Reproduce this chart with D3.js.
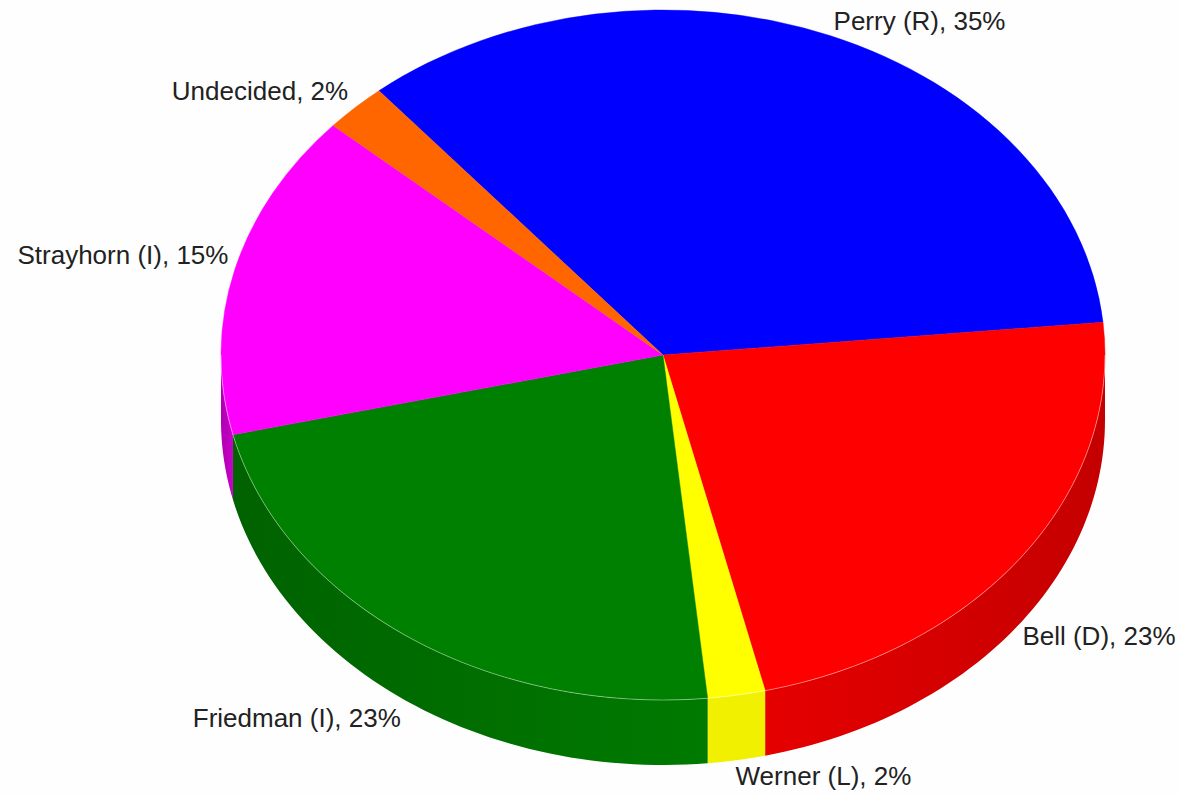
<!DOCTYPE html>
<html>
<head>
<meta charset="utf-8">
<title>Pie chart</title>
<script src="https://cdn.jsdelivr.net/npm/d3@7"></script>
<style>
  html, body { margin: 0; padding: 0; background: #fefefe; }
  svg { display: block; }
</style>
</head>
<body>
<div id="pie-chart"></div>
<script>
const candidates = ["Perry (R)", "Bell (D)", "Werner (L)", "Friedman (I)", "Strayhorn (I)", "Undecided"];
// printed percentages
const labelPercents = [35, 23, 2, 23, 15, 2];
// slice shares (printed ones are rounded)
const shares = [34.6, 22.8, 2.1, 22.9, 15.3, 2.3];
const topColors = ["#0000ff", "#ff0000", "#ffff00", "#008000", "#ff00ff", "#ff6600"];
const wallDark = ["#0000c0", "#c40000", "#f0f000", "#006200", "#b000b0", "#c05000"];
const wallLight = ["#0000c0", "#e60000", "#f0f000", "#007a00", "#c800c8", "#c05000"];

const width = 1179, height = 795;
const cx = 663, cy = 355, rx = 442, ry = 345, depth = 65;
const startAngle = -40 * Math.PI / 180;

// label nudges from the rim point [dx, dy]
const labelNudge = [[3, -6], [0, 24], [-1, 25], [-6, 26], [-6, -6], [-7, -7]];

const svg = d3.select("#pie-chart")
  .append("svg")
  .attr("width", width)
  .attr("height", height)
  .style("background-color", "#fefefe");

const pie = d3.pie()
  .sort(null)
  .startAngle(startAngle)
  .endAngle(startAngle + 2 * Math.PI);

const slices = pie(shares);

const arc = d3.arc().innerRadius(0).outerRadius(rx);

// angle measured clockwise from 12 o'clock, same as d3.arc
const rimX = a => cx + rx * Math.sin(a);
const rimY = a => cy - ry * Math.cos(a);

const defs = svg.append("defs");
const walls = svg.append("g");

// side walls, only the front half of the pie shows
slices.forEach((s, i) => {
  const a0 = Math.max(s.startAngle, Math.PI / 2);
  const a1 = Math.min(s.endAngle, 3 * Math.PI / 2);
  if (a1 <= a0) return;

  const steps = d3.range(0, 61).map(k => a0 + (a1 - a0) * k / 60);
  const upper = steps.map(a => [rimX(a), rimY(a)]);
  const lower = steps.slice().reverse().map(a => [rimX(a), rimY(a) + depth]);

  // the wall gets lighter towards the front of the pie
  const darkAtStart = Math.abs(a0 - Math.PI) > Math.abs(a1 - Math.PI);
  const grad = defs.append("linearGradient")
    .attr("id", "wall" + i)
    .attr("gradientUnits", "userSpaceOnUse")
    .attr("x1", rimX(a0)).attr("y1", 0)
    .attr("x2", rimX(a1)).attr("y2", 0);
  grad.append("stop").attr("offset", 0).attr("stop-color", darkAtStart ? wallDark[i] : wallLight[i]);
  grad.append("stop").attr("offset", 1).attr("stop-color", darkAtStart ? wallLight[i] : wallDark[i]);

  walls.append("path")
    .attr("d", d3.line()(upper.concat(lower)) + "Z")
    .attr("fill", `url(#wall${i})`);
});

// top of the pie
svg.append("g")
  .attr("transform", `translate(${cx},${cy}) scale(1,${ry / rx})`)
  .selectAll("path")
  .data(slices)
  .join("path")
  .attr("d", arc)
  .attr("fill", (d, i) => topColors[i])
  .attr("stroke", (d, i) => topColors[i])
  .attr("stroke-width", 0.5);

// thin light rim between top and wall
const rimAngles = d3.range(0, 121).map(k => Math.PI / 2 + Math.PI * k / 120);
svg.append("path")
  .attr("d", d3.line()(rimAngles.map(a => [rimX(a), rimY(a)])))
  .attr("fill", "none")
  .attr("stroke", "rgba(255,255,255,0.4)")
  .attr("stroke-width", 1);

// labels
svg.append("g")
  .selectAll("text")
  .data(slices)
  .join("text")
  .text((d, i) => `${candidates[i]}, ${labelPercents[i]}%`)
  .attr("x", (d, i) => rimX((d.startAngle + d.endAngle) / 2) + labelNudge[i][0])
  .attr("y", (d, i) => {
    const mid = (d.startAngle + d.endAngle) / 2;
    const front = Math.cos(mid) < 0 ? depth : 0;
    return rimY(mid) + front + labelNudge[i][1];
  })
  .attr("text-anchor", d => Math.sin((d.startAngle + d.endAngle) / 2) < 0 ? "end" : "start")
  .attr("font-family", "Liberation Sans")
  .attr("font-size", 26)
  .attr("fill", "#222222");
</script>
</body>
</html>
